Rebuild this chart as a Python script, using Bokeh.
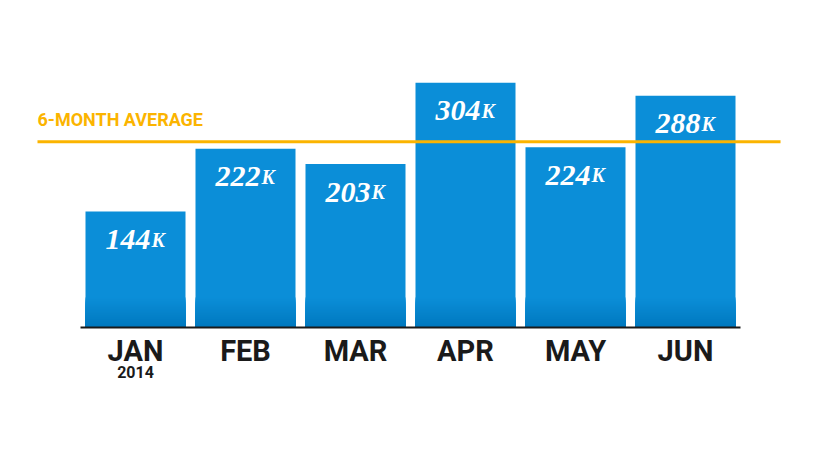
from bokeh.plotting import figure
from bokeh.models import Range1d, ColumnDataSource
from bokeh.core.properties import value
from bokeh.embed import file_html
from bokeh.resources import INLINE

months = ["JAN", "FEB", "MAR", "APR", "MAY", "JUN"]
year_label = "2014"
values = [144, 222, 203, 304, 224, 288]
value_suffix = "K"
avg_label = "6-MONTH AVERAGE"

avg = sum(values) / len(values)

W, H = 804, 444
px_x = 110.0      # pixels per category
px_y = 0.805      # pixels per thousand
cx0 = 135.0       # pixel x of first bar centre
base = 327.0      # pixel y (from top) of baseline

COND = value("Roboto")

p = figure(width=W, height=H, output_backend="svg", toolbar_location=None,
           min_border=0, min_border_left=0, min_border_right=0,
           min_border_top=0, min_border_bottom=0)
p.x_range = Range1d(-cx0 / px_x, (W - cx0) / px_x)
p.y_range = Range1d(-(H - base) / px_y, base / px_y)
p.axis.visible = False
p.grid.visible = False
p.outline_line_color = None
p.background_fill_color = "white"
p.border_fill_color = "white"

xs = list(range(len(months)))
src = ColumnDataSource(dict(x=xs, top=values, month=months,
                            num=[str(v) for v in values],
                            suf=[value_suffix] * len(values)))

BAR = "#0B8ED8"
bw = 100 / px_x
p.vbar(x="x", top="top", width=bw, bottom=0, source=src,
       fill_color=BAR, line_color=None)

# darker gradient near the bottom of the bars
grad_h = 30 / px_y
n = 15
c0 = (0x0B, 0x8E, 0xD8)
c1 = (0x00, 0x78, 0xBE)
for k in range(n):
    t = (k + 0.5) / n
    col = "#%02x%02x%02x" % tuple(int(round(a + (b - a) * t)) for a, b in zip(c0, c1))
    top_k = grad_h * (1 - k / n)
    p.vbar(x=xs, top=[min(top_k, v) for v in values], bottom=0, width=bw,
           fill_color=col, line_color=None)

# baseline
p.segment(x0=[-0.5], x1=[len(months) - 0.5], y0=[0], y1=[0],
          line_color="#1a1a1a", line_width=2)

# average line
ax0 = -0.891
ax1 = 5.864
p.segment(x0=[ax0], x1=[ax1], y0=[avg], y1=[avg], line_color="#FBB400", line_width=3)
p.text(x=[ax0], y=[avg], text=[avg_label], text_color="#FBB400",
       text_font=COND, text_font_style="bold",
       text_font_size="18px", text_align="left", text_baseline="alphabetic",
       y_offset=-22)

# value labels
p.text(x="x", y="top", text="num", source=src, text_color="white",
       text_font=value("Liberation Serif"), text_font_style="bold italic",
       text_font_size="30px", text_align="right", text_baseline="alphabetic",
       x_offset=15, y_offset=28)
p.text(x="x", y="top", text="suf", source=src, text_color="white",
       text_font=value("Liberation Serif"), text_font_style="bold italic",
       text_font_size="20px", text_align="left", text_baseline="alphabetic",
       x_offset=16, y_offset=28)

# month labels
p.text(x="x", y=0, text="month", source=src, text_color="#1a1a1a",
       text_font=COND, text_font_style="bold",
       text_font_size="29px", text_align="center", text_baseline="alphabetic",
       y_offset=23)
p.text(x=[0], y=[0], text=[year_label], text_color="#1a1a1a",
       text_font=COND, text_font_style="bold",
       text_font_size="16px", text_align="center", text_baseline="alphabetic",
       y_offset=44)

open("out.html", "w").write(file_html(p, INLINE))
